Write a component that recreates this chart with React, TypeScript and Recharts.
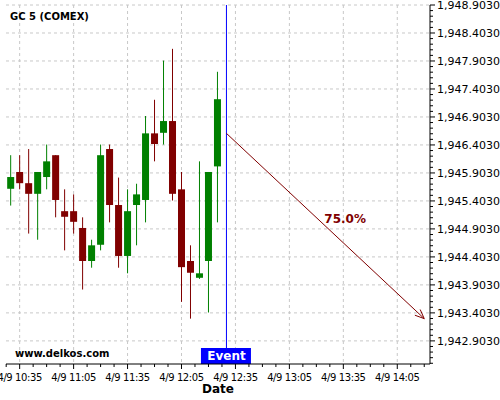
import React from 'react';
import { ComposedChart, Bar, XAxis, YAxis, CartesianGrid, ReferenceLine } from 'recharts';

// minutes after 10:00 on 4/9
const times = [30, 35, 40, 45, 50, 55, 60, 65, 70, 75, 80, 85, 90, 95, 100, 105, 110, 115, 120, 125, 130, 135, 140, 145];
const opens = [1945.62, 1945.92, 1945.72, 1945.53, 1945.83, 1946.22, 1945.22, 1945.22, 1944.92, 1944.33, 1944.62, 1946.33, 1945.33, 1944.42, 1945.33, 1945.42, 1946.61, 1946.62, 1946.83, 1945.61, 1944.33, 1944.03, 1944.33, 1946.02];
const highs = [1946.22, 1946.22, 1946.33, 1945.92, 1946.41, 1946.22, 1945.61, 1945.52, 1945.11, 1944.71, 1946.41, 1946.41, 1945.82, 1945.61, 1945.71, 1946.92, 1947.21, 1947.91, 1948.12, 1945.92, 1944.61, 1946.11, 1945.92, 1947.71];
const lows = [1945.32, 1945.61, 1944.82, 1944.71, 1945.61, 1945.11, 1944.52, 1944.82, 1943.82, 1944.21, 1944.52, 1945.02, 1944.21, 1944.11, 1944.61, 1945.02, 1946.11, 1946.41, 1945.41, 1943.60, 1943.30, 1944.01, 1943.41, 1945.02];
const closes = [1945.83, 1945.72, 1945.53, 1945.92, 1946.11, 1945.42, 1945.12, 1945.03, 1944.33, 1944.61, 1946.22, 1945.33, 1944.42, 1945.22, 1945.52, 1946.61, 1946.42, 1946.83, 1945.53, 1944.22, 1944.12, 1944.11, 1945.92, 1947.22];

const majorXTicks = [35, 65, 95, 125, 155, 185, 215, 245];
const majorYTicks = [1942.903, 1943.403, 1943.903, 1944.403, 1944.903, 1945.403, 1945.903, 1946.403, 1946.903, 1947.403, 1947.903, 1948.403, 1948.903];

const eventTime = 150;
const eventText = 'Event';
const arrowStart = { t: 150, v: 1946.61 };
const arrowEnd = { t: 260, v: 1943.3 };
const arrowText = '75.0%';
const titleText = 'GC 5 (COMEX)';
const siteText = 'www.delkos.com';
const xAxisTitle = 'Date';

const xDomain: [number, number] = [27.4, 263.2];
const yDomain: [number, number] = [1942.49, 1948.903];

const minorXTicks: number[] = [];
for (let k = 0; k <= 31; k++) minorXTicks.push(27.5 + 7.5 * k);
const allYTicks: number[] = [];
for (let k = 0; k <= 64; k++) allYTicks.push(Math.round((1942.503 + 0.1 * k) * 1000) / 1000);

const data = times.map((t, i) => ({ t, open: opens[i], high: highs[i], low: lows[i], close: closes[i] }));

const FONT = 'DejaVu Sans';
const GREEN = '#008000';
const RED = '#800000';

const fmtTime = (m: number) => {
  const h = 10 + Math.floor(m / 60);
  const mm = Math.round(m % 60);
  return `4/9 ${h}:${mm < 10 ? '0' + mm : mm}`;
};
const fmtPrice = (v: number) => {
  const s = v.toFixed(4);
  const [ip, dp] = s.split('.');
  return ip.replace(/\B(?=(\d{3})+(?!\d))/g, ',') + '.' + dp;
};

const Candle = (props: any) => {
  const { x, y, width, height, payload } = props;
  const top = Math.min(y, y + height);
  const h = Math.abs(height);
  const { open, close, high, low } = payload;
  const range = high - low;
  const py = (v: number) => (range === 0 ? top : top + ((high - v) / range) * h);
  const cx = x + width / 2;
  const color = close >= open ? GREEN : RED;
  const bTop = py(Math.max(open, close));
  const bBot = py(Math.min(open, close));
  return (
    <g>
      <line x1={cx} x2={cx} y1={top} y2={top + h} stroke={color} strokeWidth={1} />
      <rect x={cx - 3.5} y={bTop} width={7} height={Math.max(1, bBot - bTop)} fill={color} />
    </g>
  );
};

const XTick = (props: any) => {
  const { x, y, payload } = props;
  const major = majorXTicks.some((v) => Math.abs(v - payload.value) < 1e-6);
  return (
    <g>
      <line x1={x} x2={x} y1={y} y2={y + (major ? 5 : 3)} stroke="#000" />
      {major && (
        <text x={x} y={y + 17} textAnchor="middle" fontSize={10} letterSpacing={-0.4} fontFamily={FONT} fill="#000">
          {fmtTime(payload.value)}
        </text>
      )}
    </g>
  );
};

const YTick = (props: any) => {
  const { x, y, payload } = props;
  const major = majorYTicks.some((v) => Math.abs(v - payload.value) < 1e-6);
  return (
    <g>
      <line x1={x} x2={x + (major ? 5 : 3)} y1={y} y2={y} stroke="#000" />
      {major && (
        <text x={x + 7} y={y + 4} textAnchor="start" fontSize={11} fontFamily={FONT} fill="#000">
          {fmtPrice(payload.value)}
        </text>
      )}
    </g>
  );
};

const EventLabel = (props: any) => {
  const vb = props.viewBox || {};
  const cx = vb.x;
  const bottom = vb.y + vb.height;
  return (
    <g>
      <rect x={cx - 25.5} y={bottom - 16} width={50} height={16} fill="#0000ff" />
      <text x={cx} y={bottom - 3.7} textAnchor="middle" fontSize={12} fontWeight="bold" fontFamily={FONT} fill="#fff">
        {eventText}
      </text>
    </g>
  );
};

const ArrowShape = (props: any) => {
  const { x1, y1, x2, y2 } = props;
  const ang = Math.atan2(y2 - y1, x2 - x1);
  const len = 10;
  const a1 = ang + Math.PI - 0.4;
  const a2 = ang + Math.PI + 0.4;
  const mx = x1 + (x2 - x1) * 0.495;
  const my = y1 + (y2 - y1) * 0.495;
  return (
    <g>
      <line x1={x1} y1={y1} x2={x2} y2={y2} stroke={RED} strokeWidth={1} />
      <line x1={x2} y1={y2} x2={x2 + len * Math.cos(a1)} y2={y2 + len * Math.sin(a1)} stroke={RED} strokeWidth={1} />
      <line x1={x2} y1={y2} x2={x2 + len * Math.cos(a2)} y2={y2 + len * Math.sin(a2)} stroke={RED} strokeWidth={1} />
      <text x={mx} y={my - 2} fontSize={12} fontWeight="bold" fontFamily={FONT} fill={RED}>
        {arrowText}
      </text>
    </g>
  );
};

const DateLabel = (props: any) => {
  const vb = props.viewBox || {};
  return (
    <text x={vb.x + vb.width / 2} y={vb.y + 29.3} textAnchor="middle" fontSize={12} fontWeight="bold" fontFamily={FONT} fill="#000">
      {xAxisTitle}
    </text>
  );
};

// linear mapping matching the axes' numeric domains, used to place grid lines on major ticks
const gridY = ({ offset }: any) =>
  majorYTicks.map((v) => offset.top + ((yDomain[1] - v) / (yDomain[1] - yDomain[0])) * offset.height);
const gridX = ({ offset }: any) =>
  majorXTicks.map((v) => offset.left + ((v - xDomain[0]) / (xDomain[1] - xDomain[0])) * offset.width);

export default function App() {
  return (
    <div style={{ position: 'absolute', left: 0, top: 0, width: 500, height: 400, background: '#fff' }}>
      <ComposedChart width={500} height={400} data={data} margin={{ top: 5, right: 0, bottom: 0, left: 6 }}>
        <CartesianGrid
          stroke="#c8c8c8"
          strokeDasharray="3 3"
          horizontalCoordinatesGenerator={gridY}
          verticalCoordinatesGenerator={gridX}
        />
        <XAxis
          dataKey="t"
          type="number"
          domain={xDomain}
          allowDataOverflow
          ticks={minorXTicks}
          interval={0}
          tick={<XTick />}
          tickLine={false}
          tickSize={0}
          tickMargin={0}
          axisLine={{ stroke: '#000' }}
          height={36}
          label={<DateLabel />}
        />
        <YAxis
          orientation="right"
          type="number"
          domain={yDomain}
          allowDataOverflow
          ticks={allYTicks}
          interval={0}
          tick={<YTick />}
          tickLine={false}
          tickSize={0}
          tickMargin={0}
          axisLine={{ stroke: '#000' }}
          width={70}
        />
        <Bar dataKey={(d: any) => [d.low, d.high]} barSize={7} shape={<Candle />} isAnimationActive={false} />
        <ReferenceLine x={eventTime} stroke="#0000ff" strokeWidth={1} label={<EventLabel />} />
        <ReferenceLine
          segment={[{ x: arrowStart.t, y: arrowStart.v }, { x: arrowEnd.t, y: arrowEnd.v }]}
          shape={<ArrowShape />}
        />
      </ComposedChart>
      <svg width={500} height={400} style={{ position: 'absolute', left: 0, top: 0, pointerEvents: 'none' }}>
        <text x={10} y={19.5} fontSize={10} fontWeight="bold" fontFamily={FONT} fill="#000">
          {titleText}
        </text>
        <text x={15} y={357.3} fontSize={10} fontWeight="bold" fontFamily={FONT} fill="#000">
          {siteText}
        </text>
      </svg>
    </div>
  );
}
